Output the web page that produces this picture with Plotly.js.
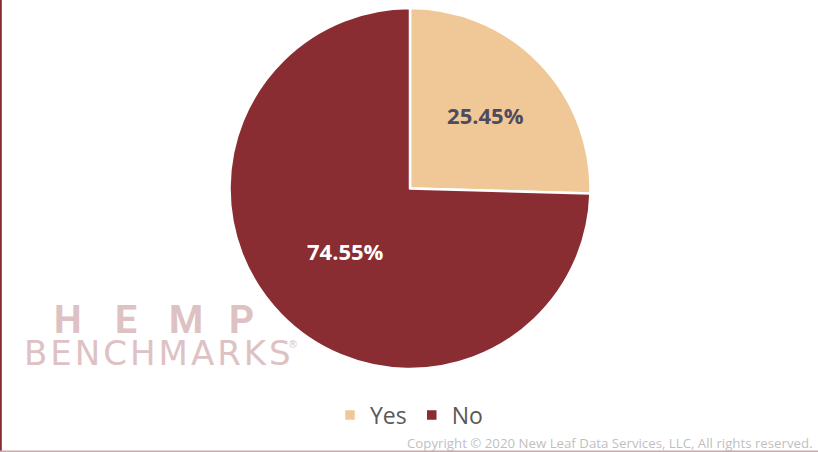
<!DOCTYPE html>
<html>
<head>
<meta charset="utf-8">
<script src="https://cdn.plot.ly/plotly-3.0.1.min.js"></script>
<style>html,body{margin:0;padding:0;background:#fff;}#chart{width:818px;height:452px;}</style>
</head>
<body>
<div id="chart"></div>
<script>
var categories = ['Yes', 'No'];
var values = [25.45, 74.55];
var sliceColors = ['#F0C898', '#8A2D32'];
var labelColors = ['#4E4B5C', '#FFFFFF'];
var logoLetters = ['H', 'E', 'M', 'P'];

var trace = {
  type: 'pie',
  labels: categories,
  values: values,
  sort: false,
  direction: 'clockwise',
  rotation: 0,
  marker: {colors: sliceColors, line: {color: '#FFFFFF', width: 2.5}},
  texttemplate: '%{percent:.2%}',
  textposition: 'inside',
  insidetextorientation: 'horizontal',
  insidetextfont: {family: 'Open Sans', size: 22, color: labelColors, weight: 'bold'},
  hoverinfo: 'label+percent',
  domain: {x: [229/818, 591/818], y: [(452-369)/452, (452-8)/452]}
};

var logoX = [68, 126, 186, 241];
var annotations = logoLetters.map(function (ch, i) {
  return {xref: 'paper', yref: 'paper', x: logoX[i]/818, y: 1 - 320/452, xanchor: 'center', yanchor: 'middle',
          showarrow: false, text: ch, font: {family: 'Roboto', size: 39, color: '#DEC2C3', weight: 'bold'}};
});
annotations.push(
  {xref: 'paper', yref: 'paper', x: 22/818, y: 1 - 353/452, xanchor: 'left', yanchor: 'middle', showarrow: false,
   text: '<span style="letter-spacing:3px">BENCHMARKS</span>',
   font: {family: 'DejaVu Sans', size: 34, color: '#DEC2C3'}},
  {xref: 'paper', yref: 'paper', x: 300/818, y: 1 - 344/452, xanchor: 'right', yanchor: 'middle', showarrow: false,
   text: '®', font: {family: 'DejaVu Sans', size: 10, color: '#DEC2C3'}},
  {xref: 'paper', yref: 'paper', x: 815/818, y: 1 - 443/452, xanchor: 'right', yanchor: 'middle', showarrow: false,
   text: 'Copyright © 2020 New Leaf Data Services, LLC, All rights reserved.',
   font: {family: 'Open Sans', size: 13.25, color: '#BFBFBF'}}
);

var layout = {
  width: 818, height: 452,
  margin: {l: 0, r: 0, t: 0, b: 0},
  paper_bgcolor: '#FFFFFF',
  showlegend: true,
  legend: {orientation: 'h', x: 0.5, xanchor: 'center', y: 0.082, yanchor: 'middle',
           font: {family: 'Open Sans', size: 23, color: '#595959'}, itemwidth: 30, traceorder: 'normal'},
  font: {family: 'Open Sans'},
  shapes: [
    {type: 'line', xref: 'paper', yref: 'paper', x0: 0.001, x1: 0.001, y0: 0, y1: 1, line: {color: '#8A2D32', width: 2}},
    {type: 'line', xref: 'paper', yref: 'paper', x0: 0, x1: 1, y0: 0.0015, y1: 0.0015, line: {color: '#C9A9A9', width: 1.5}}
  ],
  annotations: annotations
};

Plotly.newPlot('chart', [trace], layout, {displayModeBar: false, staticPlot: true});
</script>
</body>
</html>
